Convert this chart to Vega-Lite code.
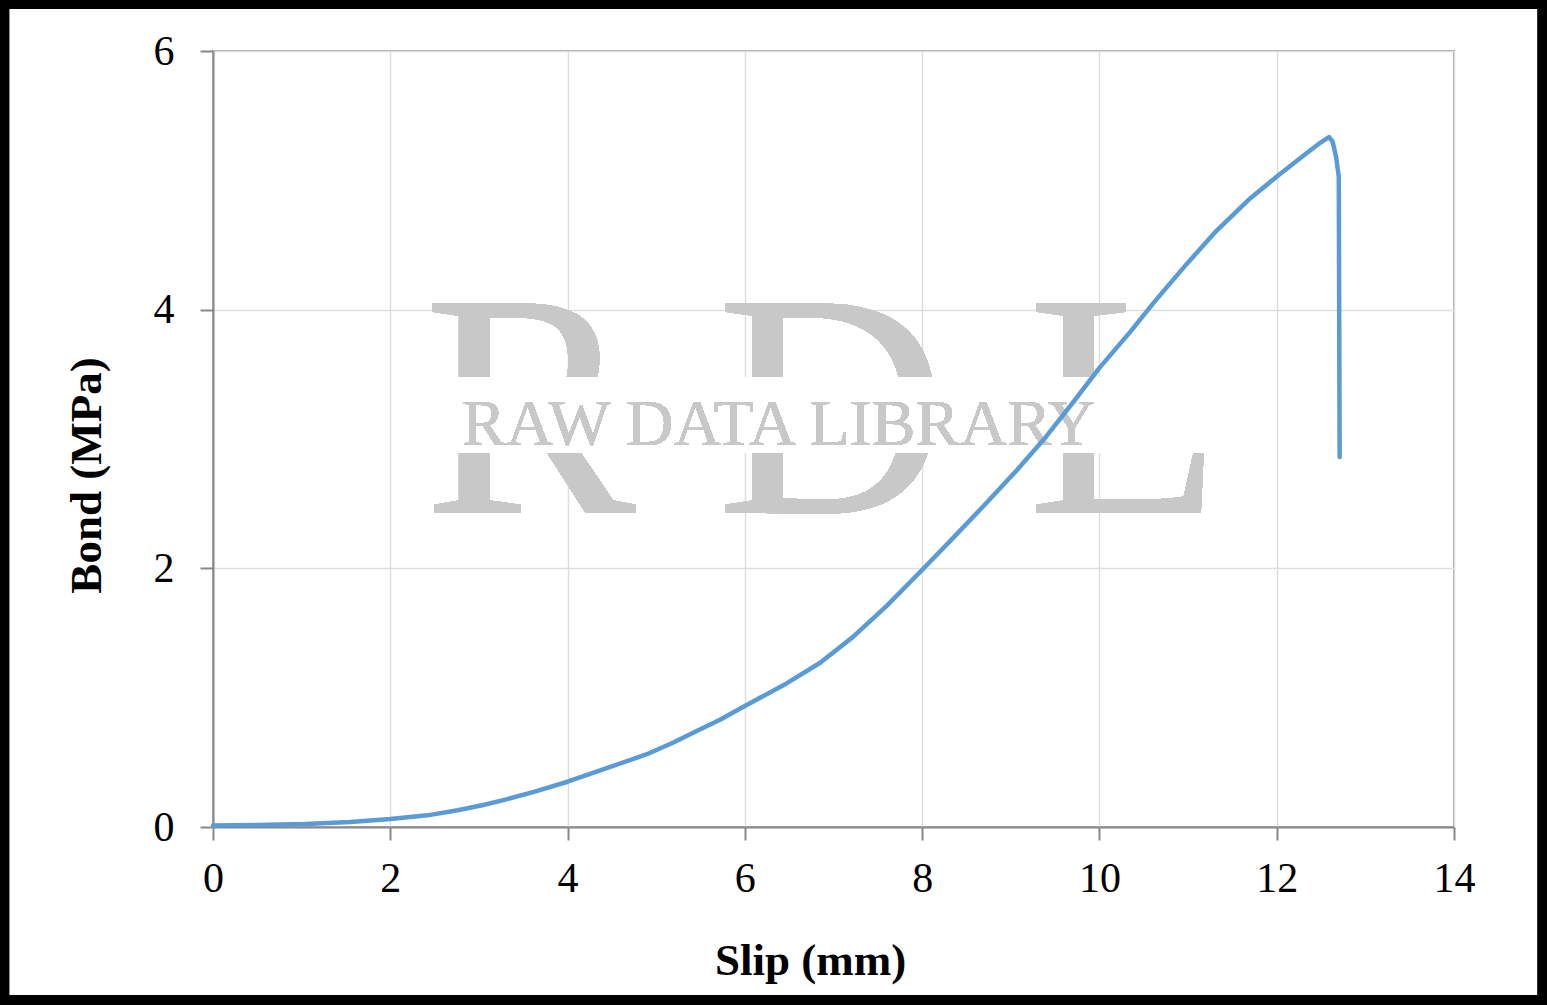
{
  "$schema": "https://vega.github.io/schema/vega-lite/v6.json",
  "width": 1241,
  "height": 776,
  "autosize": {"type": "none"},
  "padding": {"left": 213, "top": 51, "right": 93, "bottom": 178},
  "background": "white",
  "config": {
    "font": "Liberation Serif",
    "view": {"stroke": "#a6a6a6", "strokeWidth": 2},
    "axis": {
      "grid": true,
      "gridColor": "#dedede",
      "gridWidth": 1.5,
      "domainColor": "#898989",
      "domainWidth": 2,
      "tickColor": "#898989",
      "tickWidth": 2,
      "tickSize": 13,
      "labelFont": "Liberation Serif",
      "labelFontSize": 42,
      "labelColor": "black",
      "labelFlush": false,
      "format": "d",
      "zindex": 1,
      "titleFont": "Liberation Serif",
      "titleFontSize": 45,
      "titleFontWeight": "bold",
      "titleColor": "black"
    }
  },
  "data": {
    "values": [
      {"seq": 1, "slip": 0.0, "bond": 0.012},
      {"seq": 2, "slip": 0.5, "bond": 0.016},
      {"seq": 3, "slip": 1.04, "bond": 0.023},
      {"seq": 4, "slip": 1.55, "bond": 0.039},
      {"seq": 5, "slip": 2.0, "bond": 0.062},
      {"seq": 6, "slip": 2.42, "bond": 0.09},
      {"seq": 7, "slip": 2.76, "bond": 0.13},
      {"seq": 8, "slip": 3.05, "bond": 0.17},
      {"seq": 9, "slip": 3.32, "bond": 0.216},
      {"seq": 10, "slip": 3.63, "bond": 0.273},
      {"seq": 11, "slip": 4.0, "bond": 0.35},
      {"seq": 12, "slip": 4.49, "bond": 0.466},
      {"seq": 13, "slip": 4.92, "bond": 0.57},
      {"seq": 14, "slip": 5.2, "bond": 0.655},
      {"seq": 15, "slip": 5.48, "bond": 0.75},
      {"seq": 16, "slip": 5.72, "bond": 0.83},
      {"seq": 17, "slip": 6.0, "bond": 0.935},
      {"seq": 18, "slip": 6.47, "bond": 1.11},
      {"seq": 19, "slip": 6.85, "bond": 1.27},
      {"seq": 20, "slip": 7.22, "bond": 1.47},
      {"seq": 21, "slip": 7.6, "bond": 1.71},
      {"seq": 22, "slip": 8.01, "bond": 1.995},
      {"seq": 23, "slip": 8.35, "bond": 2.235},
      {"seq": 24, "slip": 8.69, "bond": 2.48},
      {"seq": 25, "slip": 9.07, "bond": 2.76},
      {"seq": 26, "slip": 9.4, "bond": 3.02},
      {"seq": 27, "slip": 9.71, "bond": 3.29},
      {"seq": 28, "slip": 10.0, "bond": 3.55},
      {"seq": 29, "slip": 10.35, "bond": 3.83},
      {"seq": 30, "slip": 10.62, "bond": 4.06},
      {"seq": 31, "slip": 10.98, "bond": 4.35},
      {"seq": 32, "slip": 11.32, "bond": 4.61},
      {"seq": 33, "slip": 11.7, "bond": 4.86},
      {"seq": 34, "slip": 12.02, "bond": 5.04},
      {"seq": 35, "slip": 12.3, "bond": 5.19},
      {"seq": 36, "slip": 12.49, "bond": 5.29},
      {"seq": 37, "slip": 12.59, "bond": 5.335},
      {"seq": 38, "slip": 12.63, "bond": 5.3},
      {"seq": 39, "slip": 12.67, "bond": 5.18},
      {"seq": 40, "slip": 12.7, "bond": 5.03},
      {"seq": 41, "slip": 12.71, "bond": 2.86}
    ]
  },
  "layer": [
    {
      "mark": {"type": "rect", "fill": null, "stroke": "black", "strokeWidth": 9},
      "encoding": {
        "x": {"datum": -2.352, "type": "quantitative", "scale": {"domain": [0, 14], "nice": false}},
        "x2": {"datum": 14.998},
        "y": {"datum": 6.36, "type": "quantitative", "scale": {"domain": [0, 6], "nice": false}},
        "y2": {"datum": -1.338}
      }
    },
    {
      "mark": {"type": "text", "text": "R D L", "font": "Liberation Serif", "fontSize": 320, "color": "#c8c8c8", "align": "center", "baseline": "alphabetic"},
      "encoding": {
        "x": {"datum": 6.88, "type": "quantitative", "scale": {"domain": [0, 14], "nice": false}},
        "y": {"datum": 2.428, "type": "quantitative", "scale": {"domain": [0, 6], "nice": false}}
      }
    },
    {
      "mark": {"type": "rect", "color": "white"},
      "encoding": {
        "x": {"datum": 2.4, "type": "quantitative", "scale": {"domain": [0, 14], "nice": false}},
        "x2": {"datum": 11.4},
        "y": {"datum": 3.479, "type": "quantitative", "scale": {"domain": [0, 6], "nice": false}},
        "y2": {"datum": 2.892}
      }
    },
    {
      "mark": {"type": "text", "text": "RAW DATA LIBRARY", "font": "Liberation Serif", "fontSize": 66, "color": "#c8c8c8", "align": "center", "baseline": "alphabetic"},
      "encoding": {
        "x": {"datum": 6.38, "type": "quantitative", "scale": {"domain": [0, 14], "nice": false}},
        "y": {"datum": 2.954, "type": "quantitative", "scale": {"domain": [0, 6], "nice": false}}
      }
    },
    {
      "mark": {"type": "line", "color": "#5b9bd5", "strokeWidth": 4.5, "strokeJoin": "round", "strokeCap": "round"},
      "encoding": {
        "order": {"field": "seq", "type": "quantitative"},
        "x": {
          "field": "slip",
          "type": "quantitative",
          "scale": {"domain": [0, 14], "nice": false},
          "axis": {
            "title": "Slip (mm)",
            "values": [0, 2, 4, 6, 8, 10, 12, 14],
            "labelPadding": 18,
            "titleX": 597,
            "titleY": 147,
            "titleBaseline": "alphabetic",
            "titleAlign": "center"
          }
        },
        "y": {
          "field": "bond",
          "type": "quantitative",
          "scale": {"domain": [0, 6], "nice": false},
          "axis": {
            "title": "Bond (MPa)",
            "values": [0, 2, 4, 6],
            "labelPadding": 26,
            "titleX": -113,
            "titleY": 424,
            "titleBaseline": "alphabetic",
            "titleAlign": "center"
          }
        }
      }
    }
  ]
}
